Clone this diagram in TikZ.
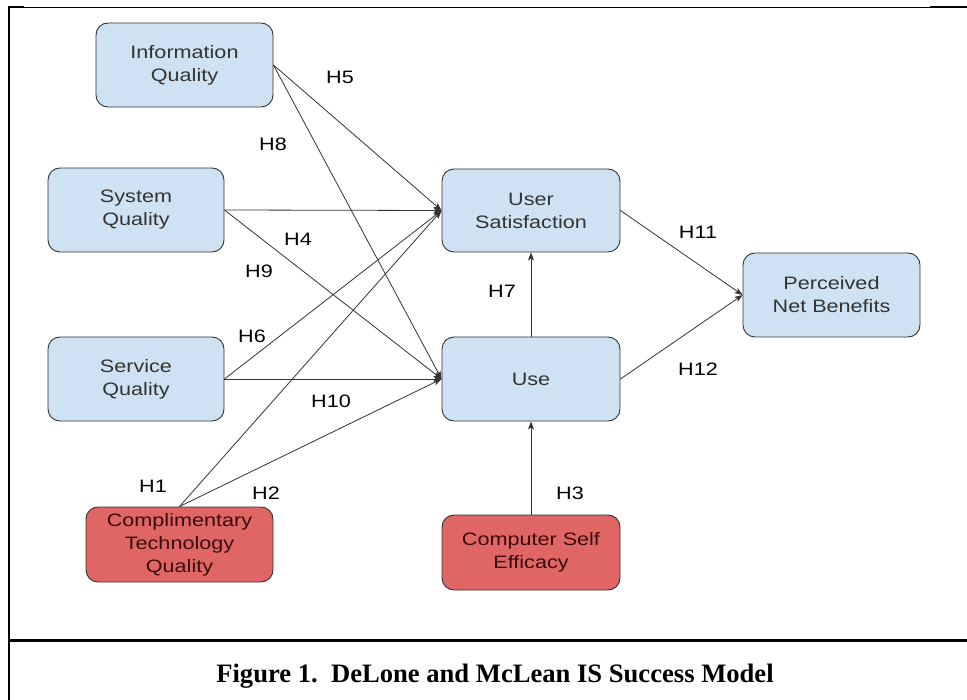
\documentclass[tikz,border=0pt]{standalone}
\usepackage{fontspec}
\setmainfont{Liberation Sans}
\newfontfamily\diagfont[FakeStretch=1.2]{Liberation Sans}
\newfontfamily\capfont{Liberation Serif}
\usetikzlibrary{arrows.meta}
\definecolor{boxblue}{HTML}{CFE2F3}
\definecolor{boxred}{HTML}{E06666}
\definecolor{edgegray}{HTML}{333333}
\definecolor{redtext}{HTML}{3A0A0A}
\begin{document}
\begin{tikzpicture}[x=1pt,y=-1pt,
  box/.style={draw=edgegray, line width=0.9pt, rounded corners=12pt, inner sep=0pt,
    align=center, font=\diagfont\fontsize{18}{23}\selectfont},
  bluebox/.style={box, fill=boxblue, text=edgegray},
  redbox/.style={box, fill=boxred, text=redtext},
  hyp/.style={font=\diagfont\fontsize{18}{23}\selectfont, text=black, inner sep=0pt},
  link/.style={draw=edgegray, line width=0.8pt, -{Stealth[length=8pt,width=6pt,inset=2pt]}}
]
\useasboundingbox (0,0) rectangle (967,700);
% frame
\draw[line width=0.9pt] (9,7) -- (967,7);
\draw[line width=2.5pt] (9,7) -- (24,7);
\draw[line width=2.5pt] (930,7) -- (967,7);
\draw[line width=2.5pt] (9,6) -- (9,700);
\draw[line width=3pt] (9,640) -- (967,640);

% nodes
\node[bluebox, minimum width=177pt, minimum height=84pt] (iq) at (184.5,65) {Information\\Quality};
\node[bluebox, minimum width=176pt, minimum height=84pt] (sq) at (136,210) {System\\Quality};
\node[bluebox, minimum width=176pt, minimum height=84pt] (svq) at (136,379) {Service\\Quality};
\node[bluebox, minimum width=178pt, minimum height=83pt] (us) at (531,210.5) {User\\Satisfaction};
\node[bluebox, minimum width=178pt, minimum height=84pt] (use) at (531,379) {Use};
\node[bluebox, minimum width=177pt, minimum height=84pt] (pnb) at (831.5,295) {Perceived\\Net Benefits};
\node[redbox, minimum width=187pt, minimum height=75pt] (ctq) at (179.5,544.5) {Complimentary\\Technology\\Quality};
\node[redbox, minimum width=178pt, minimum height=75pt] (cse) at (531,552.5) {Computer Self\\Efficacy};

% connectors
\draw[link] (iq.east) -- (us.west);
\draw[link] (iq.east) -- (use.west);
\draw[link] (sq.east) -- (us.west);
\draw[link] (sq.east) -- (use.west);
\draw[link] (svq.east) -- (us.west);
\draw[link] (svq.east) -- (use.west);
\draw[link] (ctq.north) -- (us.west);
\draw[link] (ctq.north) -- (use.west);
\draw[link] (use.north) -- (us.south);
\draw[link] (cse.north) -- (use.south);
\draw[link] (us.east) -- (pnb.west);
\draw[link] (use.east) -- (pnb.west);

% labels
\node[hyp] (h5) at (340,77) {H5};
\node[hyp] (h8) at (273,144) {H8};
\node[hyp] (h4) at (298,239) {H4};
\node[hyp] (h9) at (259,271) {H9};
\node[hyp] (h6) at (252,336) {H6};
\node[hyp] (h10) at (331,401) {H10};
\node[hyp] (h1) at (153,486) {H1};
\node[hyp] (h2) at (266,493) {H2};
\node[hyp] (h7) at (502,291) {H7};
\node[hyp] (h11) at (698,232) {H11};
\node[hyp] (h12) at (698,369) {H12};
\node[hyp] (h3) at (570,493) {H3};

% caption
\node[font=\capfont\bfseries\fontsize{26.6}{30}\selectfont, inner sep=0pt, anchor=base] (cap) at (495,682) {Figure 1.\ \ DeLone and McLean IS Success Model};
\end{tikzpicture}
\end{document}
